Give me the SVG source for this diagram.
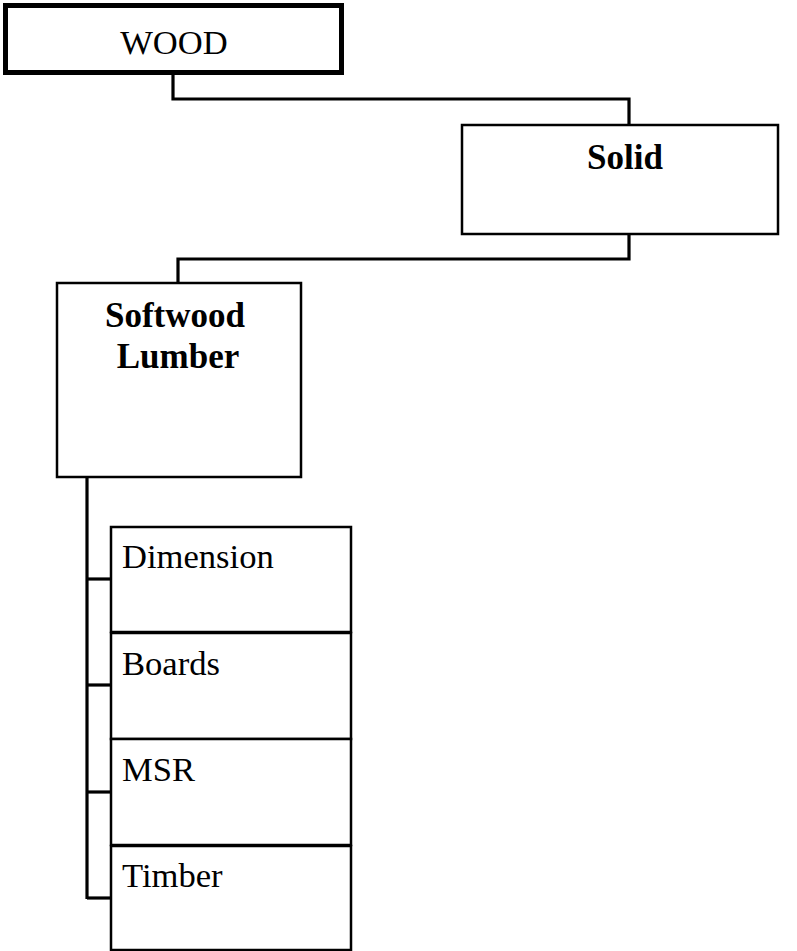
<svg xmlns="http://www.w3.org/2000/svg" width="797" height="951" viewBox="0 0 797 951">
<style>
.box{fill:#fff;stroke:#000;stroke-width:2.5}
.thick{fill:#fff;stroke:#000;stroke-width:5}
.t{font-family:"Liberation Serif","Times New Roman",serif;font-size:34.6px;fill:#000}
.b{font-weight:bold;font-size:35px}
.c{fill:none;stroke:#000;stroke-width:3.2}
</style>
<rect width="797" height="951" fill="#fff"/>
<g id="connectors">
<polyline class="c" points="173,75 173,99 629,99 629,125"/>
<polyline class="c" points="629,234 629,259 178,259 178,283"/>
<polyline class="c" points="87,477 87,899"/>
<line class="c" x1="87" y1="579" x2="111" y2="579"/>
<line class="c" x1="87" y1="685" x2="111" y2="685"/>
<line class="c" x1="87" y1="792" x2="111" y2="792"/>
<line class="c" x1="87" y1="898" x2="111" y2="898"/>
</g>
<g id="wood">
<rect class="thick" x="5.5" y="5.5" width="336" height="67"/>
<text class="t" x="174" y="54" text-anchor="middle">WOOD</text>
</g>
<g id="solid">
<rect class="box" x="462" y="125" width="316" height="109"/>
<text class="t b" x="625" y="169" text-anchor="middle">Solid</text>
</g>
<g id="softwood">
<rect class="box" x="57" y="283" width="244" height="194"/>
<text class="t b" x="175" y="327" text-anchor="middle">Softwood</text>
<text class="t b" x="178" y="368" text-anchor="middle">Lumber</text>
</g>
<g id="dimension">
<rect class="box" x="111" y="527" width="240" height="105"/>
<text class="t" x="122" y="568">Dimension</text>
</g>
<g id="boards">
<rect class="box" x="111" y="633" width="240" height="106"/>
<text class="t" x="122" y="675">Boards</text>
</g>
<g id="msr">
<rect class="box" x="111" y="739" width="240" height="106"/>
<text class="t" x="122" y="781">MSR</text>
</g>
<g id="timber">
<rect class="box" x="111" y="846" width="240" height="104"/>
<text class="t" x="122" y="887">Timber</text>
</g>
</svg>
